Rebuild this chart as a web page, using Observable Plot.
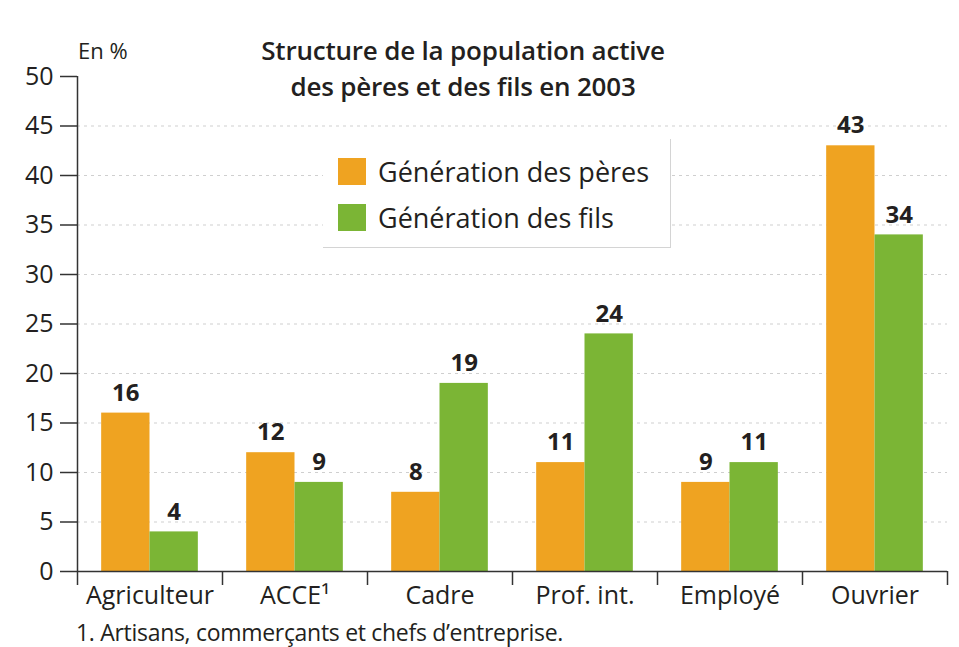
<!DOCTYPE html>
<html>
<head>
<meta charset="utf-8">
<script src="https://cdn.jsdelivr.net/npm/d3@7"></script>
<script src="https://cdn.jsdelivr.net/npm/@observablehq/plot@0.6"></script>
<style>
  body { margin: 0; background: #fff; }
  #wrap { position: relative; width: 959px; height: 647px; font-family: "Open Sans", sans-serif; color: #231f20; overflow: hidden; }
  #wrap svg { position: absolute; left: 0; top: 0; }
  .ov { position: absolute; white-space: nowrap; }
  #title { left: 463px; top: 32px; transform: translateX(-50%); text-align: center; font-size: 26px; font-weight: 600; line-height: 36px; letter-spacing: -0.2px; }
  #unit { left: 78px; top: 35px; font-size: 22px; }
  #foot { left: 76px; top: 619px; font-size: 23px; line-height: 26px; letter-spacing: -0.3px; }
  #legend { left: 323px; top: 139px; width: 347px; height: 108px; background: #fff; border-right: 1.5px solid #d4d4d4; border-bottom: 1.5px solid #d4d4d4; }
  .item { position: absolute; left: 15px; display: flex; align-items: center; font-size: 27px; }
  .sw { width: 28px; height: 27px; margin-right: 12px; }
</style>
</head>
<body>
<div id="wrap"></div>
<script>
const categories = ["Agriculteur", "ACCE¹", "Cadre", "Prof. int.", "Employé", "Ouvrier"];
const series = ["Génération des pères", "Génération des fils"];
const peres = [16, 12, 8, 11, 9, 43];
const fils = [4, 9, 19, 24, 11, 34];
const yTicks = [0, 5, 10, 15, 20, 25, 30, 35, 40, 45, 50];
const gridTicks = [5, 10, 15, 20, 25, 30, 35, 40, 45];
const colors = ["#efa321", "#7bb535"];

const data = categories.flatMap((c, i) => [
  {cat: c, i, k: 0, gen: series[0], v: peres[i]},
  {cat: c, i, k: 1, gen: series[1], v: fils[i]}
]);
// each category occupies one unit; bars take the middle two thirds
const x1 = d => d.i + (d.k === 0 ? 1/6 : 1/2);
const x2 = d => d.i + (d.k === 0 ? 1/2 : 5/6);
const xm = d => (x1(d) + x2(d)) / 2;

const chart = Plot.plot({
  width: 959,
  height: 647,
  marginLeft: 77,
  marginRight: 12,
  marginTop: 76,
  marginBottom: 76,
  style: {fontFamily: "'Open Sans', sans-serif", color: "#231f20", background: "transparent"},
  x: {type: "linear", domain: [0, categories.length]},
  y: {domain: [0, 50]},
  color: {domain: series, range: colors},
  marks: [
    Plot.ruleY(gridTicks, {stroke: "#cfcfcf", strokeDasharray: "3,4", strokeWidth: 1}),
    Plot.rectY(data, {x1, x2, y: "v", fill: "gen"}),
    Plot.text(data, {x: xm, y: "v", text: d => String(d.v), dy: -20, fontSize: 24, fontWeight: "bold", fill: "#231f20"}),
    Plot.axisY({ticks: yTicks, tickSize: 17, tickPadding: 7, fontSize: 25, label: null, stroke: "#333", strokeWidth: 1.5}),
    Plot.ruleX([0], {y1: 0, y2: 50, stroke: "#333", strokeWidth: 1.5}),
    Plot.ruleY([0], {stroke: "#333", strokeWidth: 1.5}),
    Plot.axisX({ticks: d3.range(0, categories.length + 1), tickSize: 14, tickFormat: () => "", label: null, stroke: "#333", strokeWidth: 1.5}),
    Plot.axisX({ticks: categories.map((c, i) => i + 0.5), tickSize: 0, tickPadding: 15, fontSize: 25, label: null,
      tickFormat: d => categories[Math.floor(d)]})
  ]
});

const wrap = document.getElementById("wrap");
wrap.appendChild(chart);

const title = document.createElement("div");
title.className = "ov"; title.id = "title";
title.innerHTML = "Structure de la population active<br>des pères et des fils en 2003";
wrap.appendChild(title);

const unit = document.createElement("div");
unit.className = "ov"; unit.id = "unit"; unit.textContent = "En %";
wrap.appendChild(unit);

const foot = document.createElement("div");
foot.className = "ov"; foot.id = "foot";
foot.textContent = "1. Artisans, commerçants et chefs d’entreprise.";
wrap.appendChild(foot);

const legend = document.createElement("div");
legend.className = "ov"; legend.id = "legend";
series.forEach((s, j) => {
  const it = document.createElement("div");
  it.className = "item";
  it.style.top = (14 + j * 46) + "px";
  const sw = document.createElement("div");
  sw.className = "sw"; sw.style.background = colors[j];
  const tx = document.createElement("span");
  tx.textContent = s;
  it.appendChild(sw); it.appendChild(tx);
  legend.appendChild(it);
});
wrap.appendChild(legend);
</script>
</body>
</html>
